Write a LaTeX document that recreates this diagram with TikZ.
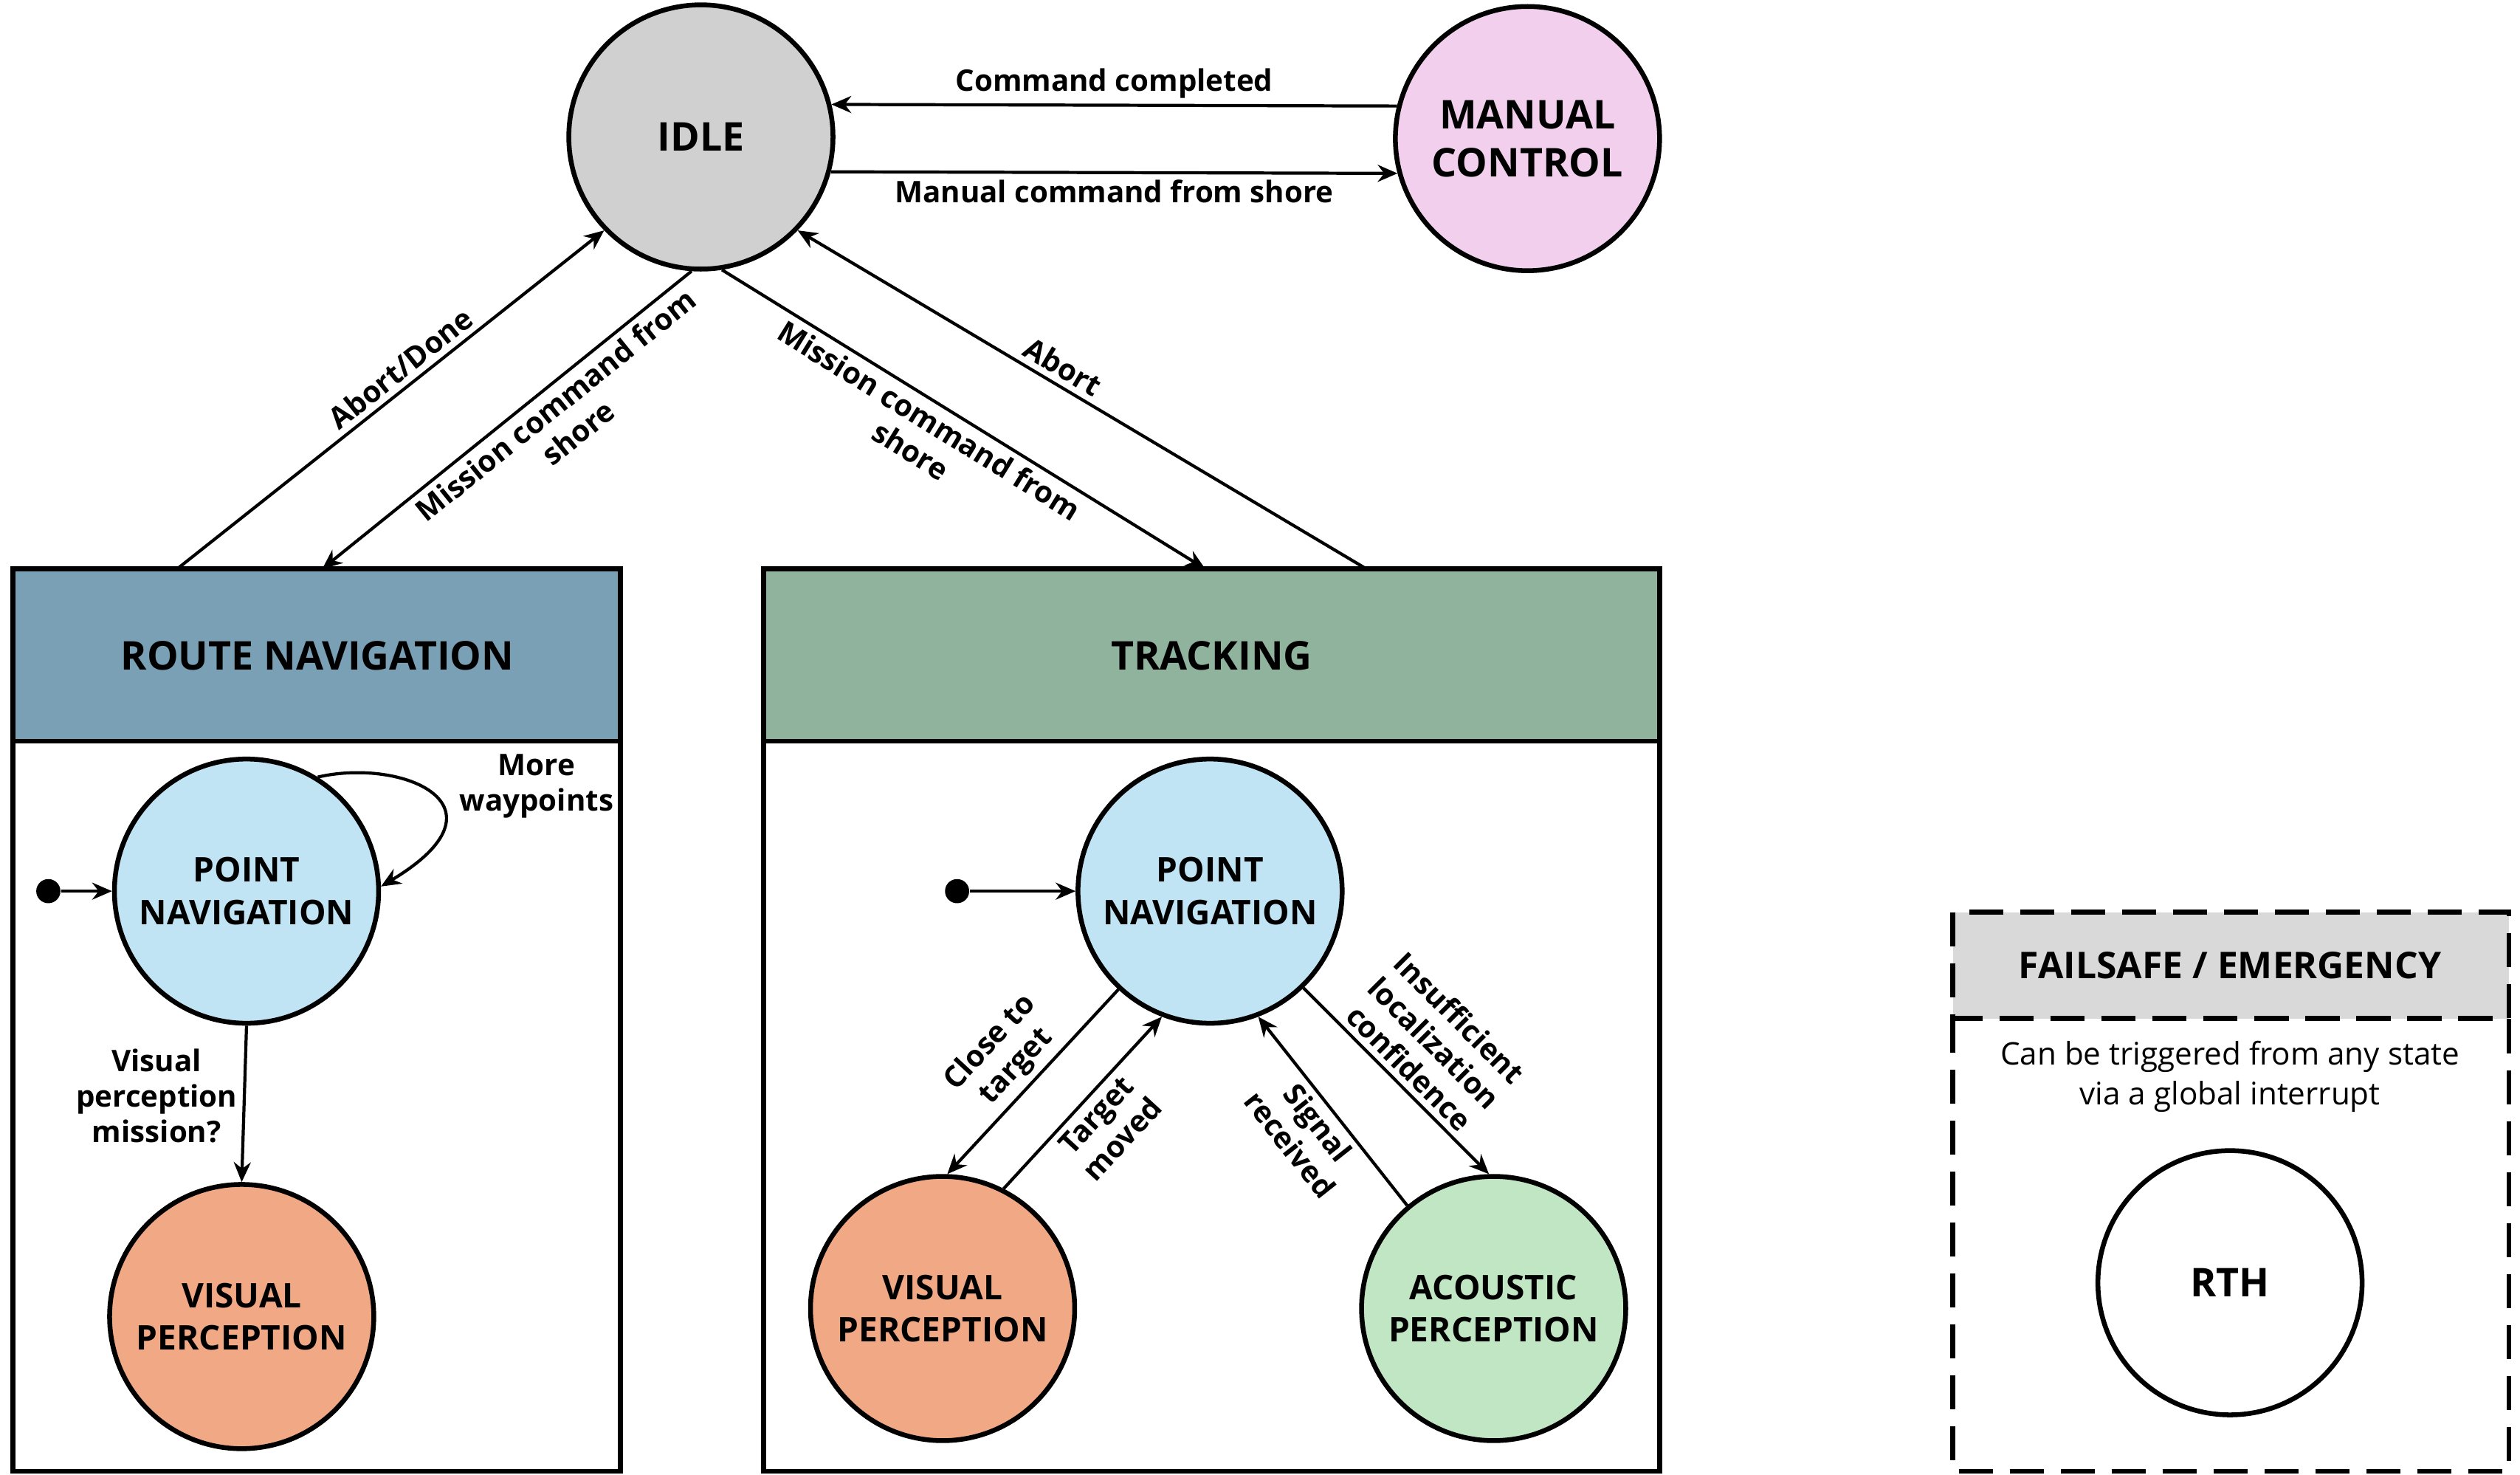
\documentclass[tikz,border=0pt]{standalone}
\usepackage{fontspec}
\setmainfont{Open Sans}
\usetikzlibrary{arrows.meta}
\definecolor{idleg}{RGB}{208,208,208}
\definecolor{pinkc}{RGB}{241,207,237}
\definecolor{blueh}{RGB}{122,160,181}
\definecolor{greenh}{RGB}{143,179,157}
\definecolor{lblue}{RGB}{193,228,245}
\definecolor{orangec}{RGB}{241,168,133}
\definecolor{lgreen}{RGB}{193,230,196}
\definecolor{greyh}{RGB}{217,217,217}
\begin{document}
\begin{tikzpicture}[x=0.02cm,y=-0.02cm,
  st/.style={circle,draw,line width=1.7pt,minimum size=3.28cm,inner sep=0pt,align=center,font=\bfseries\fontsize{12}{15}\selectfont},
  big/.style={st,font=\bfseries\fontsize{14}{17}\selectfont},
  box/.style={draw,line width=1.7pt},
  arr/.style={line width=1.1pt,-{Stealth[length=7pt,width=6pt]}},
  lab/.style={font=\bfseries\fontsize{10.5}{12.5}\selectfont,align=center,inner sep=2pt},
  dot/.style={circle,fill,inner sep=0pt,minimum size=0.3cm}]
\useasboundingbox (0,0) rectangle (1564,915);
% boxes
\draw[box,fill=blueh] (8,353) rectangle (385,460);
\draw[box] (8,460) rectangle (385,913);
\node[font=\bfseries\fontsize{14}{17}\selectfont] (rnt) at (197,407) {ROUTE NAVIGATION};
\draw[box,fill=greenh] (474,353) rectangle (1030,460);
\draw[box] (474,460) rectangle (1030,913);
\node[font=\bfseries\fontsize{14}{17}\selectfont] (trt) at (752,407) {TRACKING};
\coordinate (rtop1) at (110,353);
\coordinate (rtop2) at (200,353);
\coordinate (ttop1) at (748,353);
\coordinate (ttop2) at (848,353);
\draw[box,dashed,dash pattern=on 12pt off 6pt,fill=greyh] (1212,566) rectangle (1557,632);
\draw[box,dashed,dash pattern=on 12pt off 6pt] (1212,632) rectangle (1557,913);
\node[font=\bfseries\fontsize{13}{16}\selectfont] (fst) at (1384,599) {FAILSAFE / EMERGENCY};
\node[font=\fontsize{11}{14}\selectfont,align=center] (fsd) at (1384,668) {Can be triggered from any state\\via a global interrupt};
% states
\node[big,fill=idleg] (idle) at (435,85) {IDLE};
\node[big,fill=pinkc] (man) at (948,86) {MANUAL\\CONTROL};
\node[st,fill=lblue] (rpn) at (153,553) {POINT\\NAVIGATION};
\node[st,fill=orangec] (rvp) at (150,817) {VISUAL\\PERCEPTION};
\node[st,fill=lblue] (tpn) at (751,553) {POINT\\NAVIGATION};
\node[st,fill=orangec] (tvp) at (585,812) {VISUAL\\PERCEPTION};
\node[st,fill=lgreen] (tap) at (927,812) {ACOUSTIC\\PERCEPTION};
\node[big,fill=white] (rth) at (1384,796) {RTH};
\node[dot] (rd) at (30,553) {};
\node[dot] (td) at (594,553) {};
% edges
\draw[arr] (man.166) -- node[lab,above] {Command completed} (idle.14);
\draw[arr] (idle.-15) -- node[lab,below] {Manual command from shore} (man.195);
\draw[arr] (rtop1) -- node[lab,above,sloped,pos=0.55] {Abort/Done} (idle.224);
\draw[arr] (idle.266) -- node[lab,below,sloped,pos=0.4] {Mission command from\\shore} (rtop2);
\draw[arr] (idle.279) -- node[lab,below,sloped,pos=0.45] {Mission command from\\shore} (ttop1);
\draw[arr] (ttop2) -- node[lab,above,sloped,pos=0.55] {Abort} (idle.316);
\draw[arr] (rd) -- (rpn);
\draw[arr] (rpn.58) .. controls (250,470) and (320,500) .. (rpn.2);
\node[lab] (mw) at (333,488) {More\\waypoints};
\draw[arr] (rpn.270) -- node[lab,left,pos=0.45] {Visual\\perception\\mission?} (rvp.90);
\draw[arr] (td) -- (tpn);
\draw[arr] (tpn.227) -- node[lab,above,sloped] {Close to\\target} (tvp.88);
\draw[arr] (tvp.63) -- node[lab,below,sloped] {Target\\moved} (tpn.249);
\draw[arr] (tap.130) -- node[lab,below,sloped] {Signal\\received} (tpn.291);
\draw[arr] (tpn.314) -- node[lab,above,sloped] {Insufficient\\localization\\confidence} (tap.92);
\end{tikzpicture}
\end{document}
